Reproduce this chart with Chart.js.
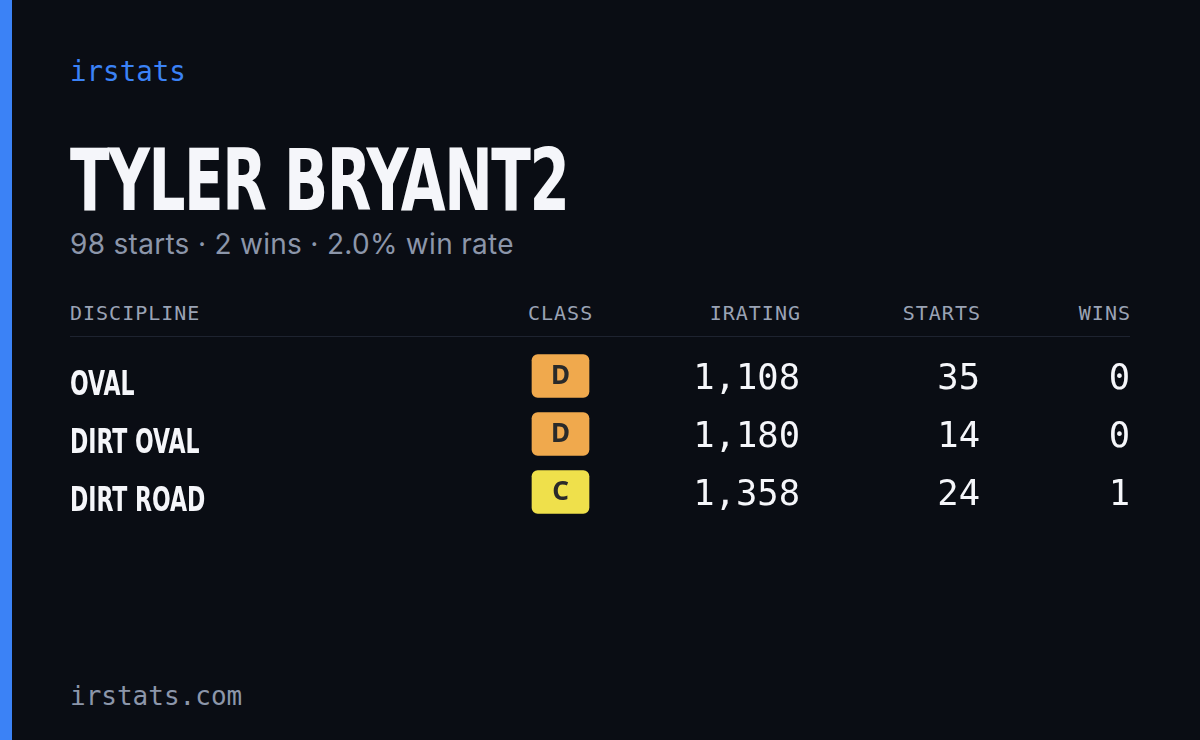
<!DOCTYPE html>
<html><head><meta charset="utf-8">
<script src="https://cdn.jsdelivr.net/npm/chart.js@4"></script>
<style>
html,body{margin:0;padding:0;background:#0a0d14;width:1200px;height:740px;overflow:hidden;position:relative}
#bar{position:absolute;left:0;top:0;width:12px;height:740px;background:#3b82f6}
.t{position:absolute;left:70px;white-space:nowrap}
#brand{top:55px;font:27.5px "DejaVu Sans Mono",monospace;color:#3b82f6}
#title{top:130px;font:bold 86px "DejaVu Sans Condensed",sans-serif;color:#f5f6fa;letter-spacing:-2px;transform:scaleX(0.75);transform-origin:left}
#sub{top:227px;font:28px Inter,sans-serif;color:#8c96aa;letter-spacing:0.3px}
#foot{top:681px;font:26px "DejaVu Sans Mono",monospace;color:#8c96aa}
.h{position:absolute;top:301px;font:20px "DejaVu Sans Mono",monospace;color:#9aa3b5;letter-spacing:1px}
#line{position:absolute;left:70px;top:336px;width:1060px;height:1px;background:#1e2330}
#wrap{position:absolute;left:0;top:347px;width:1200px;height:174px}
</style></head><body>
<div id="bar"></div>
<div class="t" id="brand">irstats</div>
<div class="t" id="title">TYLER BRYANT2</div>
<div class="t" id="sub">98 starts · 2 wins · 2.0% win rate</div>
<div class="h" style="left:70px">DISCIPLINE</div>
<div class="h" style="left:528px">CLASS</div>
<div class="h" style="right:399px">IRATING</div>
<div class="h" style="right:219px">STARTS</div>
<div class="h" style="right:69px">WINS</div>
<div id="line"></div>
<div id="wrap"><canvas id="c"></canvas></div>
<div class="t" id="foot">irstats.com</div>
<script>
const disciplines=["OVAL","DIRT OVAL","DIRT ROAD"];
const classes=["D","D","C"];
const iratings=[1108,1180,1358];
const starts=[35,14,24];
const wins=[0,0,1];
const classColors={D:"#f0a94d",C:"#efe04b"};
const cellPlugin={id:"cells",afterDatasetsDraw(ch){
 const ctx=ch.ctx,y=ch.scales.y,x=ch.scales.x;
 ctx.save();
 disciplines.forEach((d,i)=>{
  const py=y.getPixelForValue(i);
  ctx.fillStyle="#f5f6fa";ctx.textBaseline="middle";
  ctx.font="bold 34px 'DejaVu Sans Condensed',sans-serif";
  ctx.save();ctx.translate(x.getPixelForValue(70),py+10);ctx.scale(0.72,1);ctx.textAlign="left";ctx.fillText(d,0,0);ctx.restore();
  ctx.font="bold 26px 'Noto Sans',sans-serif";ctx.fillStyle="#2a2a2a";ctx.textAlign="center";
  ctx.fillText(classes[i],x.getPixelForValue(560.5),py+1);
  ctx.fillStyle="#f5f6fa";ctx.font="35.5px 'DejaVu Sans Mono',monospace";ctx.textAlign="right";
  ctx.fillText(iratings[i].toLocaleString("en-US"),x.getPixelForValue(800),py+4);
  ctx.fillText(String(starts[i]),x.getPixelForValue(980),py+4);
  ctx.fillText(String(wins[i]),x.getPixelForValue(1130),py+4);
 });
 ctx.restore();}};
new Chart(document.getElementById("c"),{type:"bar",
 data:{labels:disciplines,datasets:[{data:classes.map(()=>[532,589]),backgroundColor:classes.map(c=>classColors[c]),barThickness:43,borderRadius:6,borderSkipped:false}]},
 options:{indexAxis:"y",responsive:true,maintainAspectRatio:false,animation:false,layout:{padding:0},
  plugins:{legend:{display:false},tooltip:{enabled:false}},
  scales:{x:{type:"linear",min:0,max:1200,display:false},y:{type:"category",display:false,offset:true}}},
 plugins:[cellPlugin]});
</script></body></html>
